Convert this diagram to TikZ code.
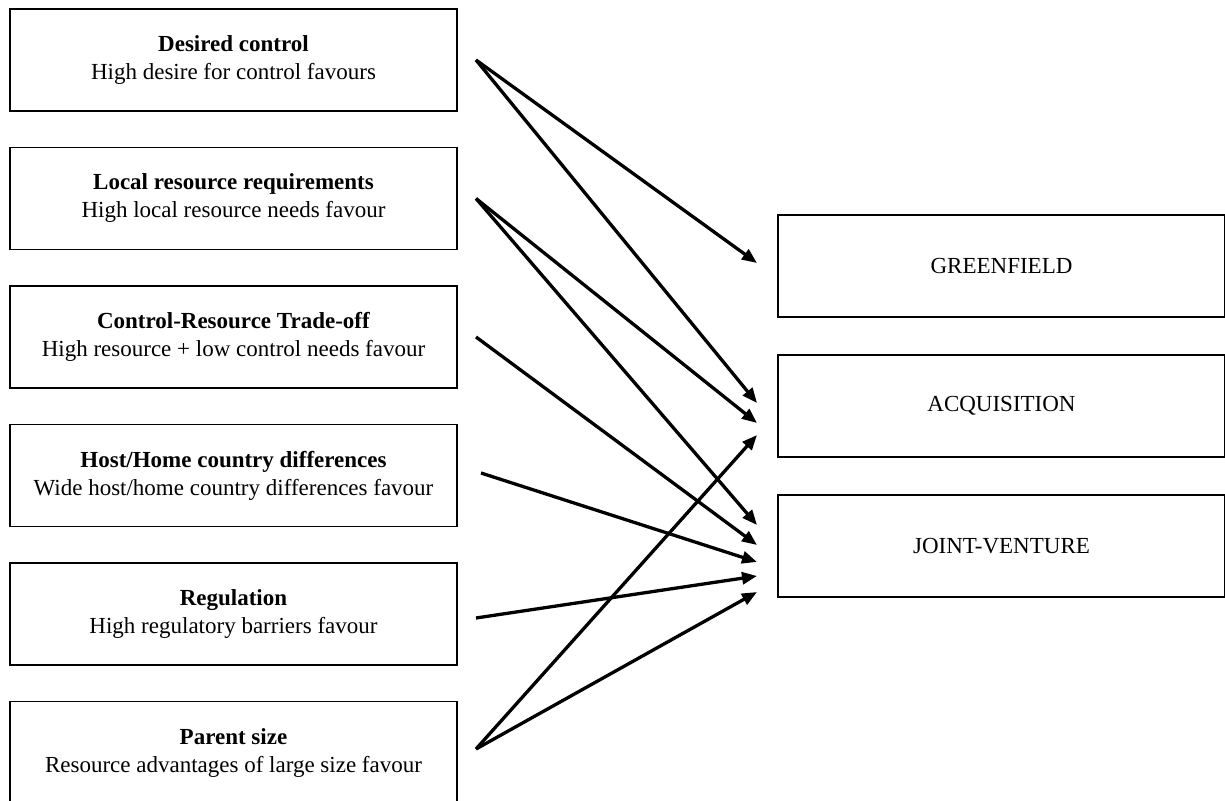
\documentclass[tikz,border=0pt]{standalone}
\usepackage{fontspec}
\setmainfont{Liberation Serif}
\usetikzlibrary{positioning, arrows.meta}

\begin{document}
\begin{tikzpicture}[
  factor/.style={draw, line width=0.8pt, minimum width=223.5pt, minimum height=51pt, inner sep=2pt, outer sep=0pt, align=center, font=\fontsize{11.5}{14}\selectfont},
  mode/.style={factor},
  link/.style={line width=1.65pt, -{Triangle[length=7.5pt,width=6pt]}},
  node distance=18.25pt
]
  \useasboundingbox (0,0) rectangle (612.5pt,-400.5pt);

  \node[factor] (control) at (116.75pt,-30pt) {\textbf{Desired control}\\High desire for control favours};
  \node[factor, below=of control] (local) {\textbf{Local resource requirements}\\High local resource needs favour};
  \node[factor, below=of local] (tradeoff) {\textbf{Control-Resource Trade-off}\\High resource + low control needs favour};
  \node[factor, below=of tradeoff] (distance) {\textbf{Host/Home country differences}\\Wide host/home country differences favour};
  \node[factor, below=of distance] (regulation) {\textbf{Regulation}\\High regulatory barriers favour};
  \node[factor, below=of regulation] (size) {\textbf{Parent size}\\Resource advantages of large size favour};

  \node[mode] (green) at (500.75pt,-133pt) {GREENFIELD};
  \node[mode, below=19pt of green] (acq) {ACQUISITION};
  \node[mode, below=19pt of acq] (jv) {JOINT-VENTURE};

  \draw[link] ([xshift=9.5pt]control.east) -- ([xshift=-10.5pt,yshift=1.5pt]green.west);
  \draw[link] ([xshift=9.5pt]control.east) -- ([xshift=-10.5pt,yshift=1.5pt]acq.west);
  \draw[link] ([xshift=9.5pt]local.east) -- ([xshift=-10.5pt,yshift=-8.5pt]acq.west);
  \draw[link] ([xshift=9.5pt]local.east) -- ([xshift=-10.5pt,yshift=10.5pt]jv.west);
  \draw[link] ([xshift=9.5pt]tradeoff.east) -- ([xshift=-10.5pt,yshift=0.5pt]jv.west);
  \draw[link] ([xshift=12pt,yshift=1.25pt]distance.east) -- ([xshift=-10.5pt,yshift=-8pt]jv.west);
  \draw[link] ([xshift=9.5pt,yshift=-2pt]regulation.east) -- ([xshift=-10.5pt,yshift=-15pt]jv.west);
  \draw[link] ([xshift=9.5pt,yshift=1.75pt]size.east) -- ([xshift=-10.5pt,yshift=-14.5pt]acq.west);
  \draw[link] ([xshift=9.5pt,yshift=1.75pt]size.east) -- ([xshift=-10.5pt,yshift=-23pt]jv.west);

\end{tikzpicture}
\end{document}
